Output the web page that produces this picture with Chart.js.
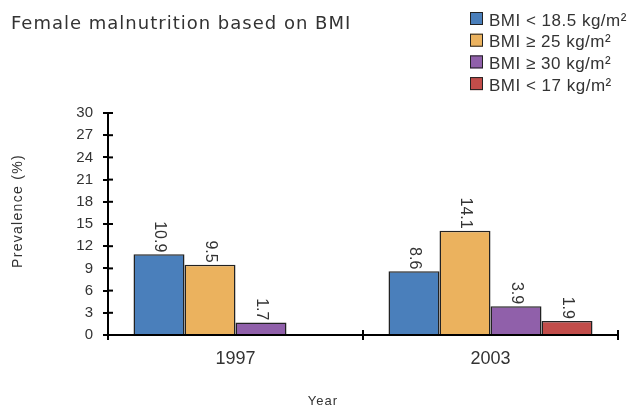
<!DOCTYPE html>
<html>
<head>
<meta charset="utf-8">
<script src="https://cdn.jsdelivr.net/npm/chart.js@4"></script>
<style>
  html, body { margin: 0; padding: 0; background: #fff; }
  #wrap { width: 631px; height: 407px; position: relative; }
</style>
</head>
<body>
<div id="wrap"><canvas id="Chart"></canvas></div>
<script>
// categories and series
var years   = ["1997", "2003"];
var names   = ["BMI < 18.5 kg/m²", "BMI ≥ 25 kg/m²", "BMI ≥ 30 kg/m²", "BMI < 17 kg/m²"];
var under   = [10.9, 8.6];   // BMI < 18.5
var over    = [9.5, 14.1];   // BMI >= 25
var obese   = [1.7, 3.9];    // BMI >= 30
var severe  = [null, 1.9];   // BMI < 17 (no 1997 value)
var colors  = ["#4a7fbb", "#ebb25e", "#9060aa", "#c24d4a"];

// y axis
var max  = 30;
var min  = 0;
var step = 3;

var title  = "Female malnutrition based on BMI";
var yTitle = "Prevalence (%)";
var xTitle = "Year";

var series = [under, over, obese, severe];

// extra drawing: title, legend, axis titles, inner tick marks, value labels
var extras = {
  id: "extras",
  afterDraw: function (chart) {
    var c = chart.ctx;
    var area = chart.chartArea;
    var xs = chart.scales.x, ys = chart.scales.y;
    c.save();

    // inner half of the tick marks
    c.strokeStyle = "#000";
    c.lineWidth = 2;
    ys.ticks.forEach(function (t) {
      var y = ys.getPixelForValue(t.value);
      c.beginPath(); c.moveTo(area.left, y); c.lineTo(area.left + 5, y); c.stroke();
    });
    var half = (xs.getPixelForValue(1) - xs.getPixelForValue(0)) / 2;
    for (var i = 0; i < years.length; i++) {
      var bx = xs.getPixelForValue(i) + half;
      c.beginPath(); c.moveTo(bx, area.bottom); c.lineTo(bx, area.bottom - 5); c.stroke();
    }

    // value labels, rotated
    c.fillStyle = "#333";
    c.font = "16px 'Liberation Sans', Arial, sans-serif";
    chart.data.datasets.forEach(function (ds, di) {
      var meta = chart.getDatasetMeta(di);
      meta.data.forEach(function (bar, j) {
        var v = ds.data[j];
        if (v === null || v === undefined) return;
        c.save();
        c.translate(bar.x, bar.y - 2);
        c.rotate(Math.PI / 2);
        c.textAlign = "right";
        c.textBaseline = "middle";
        c.fillText(String(v), 0, 0);
        c.restore();
      });
    });

    // title
    c.fillStyle = "#333";
    c.font = "18px 'DejaVu Sans', Verdana, sans-serif";
    c.letterSpacing = "1px";
    c.textAlign = "left";
    c.textBaseline = "alphabetic";
    c.fillText(title, 11, 28.5);

    // legend
    c.font = "17px 'Liberation Sans', Arial, sans-serif";
    c.letterSpacing = "0.5px";
    chart.data.datasets.forEach(function (ds, di) {
      var y = 18.5 + di * 21.7;
      c.fillStyle = ds.backgroundColor;
      c.fillRect(470, y - 6.5, 13, 13);
      c.strokeStyle = "#222";
      c.lineWidth = 1;
      c.strokeRect(470.5, y - 6, 12, 12);
      c.fillStyle = "#333";
      c.fillText(ds.label, 489, y + 7);
    });

    // axis titles
    c.fillStyle = "#333";
    c.font = "14px 'Liberation Sans', Arial, sans-serif";
    c.letterSpacing = "1.3px";
    c.textBaseline = "middle";
    c.save();
    c.translate(18.5, 211);
    c.rotate(-Math.PI / 2);
    c.textAlign = "center";
    c.fillText(yTitle, 0, 0);
    c.restore();
    c.font = "13px 'Liberation Sans', Arial, sans-serif";
    c.letterSpacing = "1px";
    c.textAlign = "center";
    c.fillText(xTitle, 323, 401);
    c.restore();
  }
};

var ctx = document.getElementById("Chart").getContext("2d");
var myChart = new Chart(ctx, {
  type: "bar",
  data: {
    labels: years,
    datasets: series.map(function (d, i) {
      return {
        label:           names[i],
        data:            d,
        backgroundColor: colors[i],
        borderColor:     "#222",
        borderWidth:     1.5,
        categoryPercentage: 0.8,
        barPercentage:   1.0
      };
    })
  },
  options: {
    responsive: true,
    maintainAspectRatio: false,
    animation: false,
    layout: { padding: { left: 0, top: 113, right: 13, bottom: 0 } },
    plugins: {
      legend:  { display: false },
      tooltip: { enabled: false }
    },
    scales: {
      x: {
        grid:   { drawOnChartArea: false, color: "#000", lineWidth: 2, tickLength: 5, offset: true },
        border: { color: "#000", width: 2 },
        ticks:  { color: "#333", padding: 8, font: { family: "'Liberation Sans', Arial, sans-serif", size: 18 } },
        afterFit: function (s) { s.height = 72; }
      },
      y: {
        min: min,
        max: max,
        grid:   { drawOnChartArea: false, color: "#000", lineWidth: 2, tickLength: 5 },
        border: { color: "#000", width: 2 },
        ticks:  { stepSize: step, color: "#333", padding: 10, font: { family: "'Liberation Sans', Arial, sans-serif", size: 15 } },
        afterFit: function (s) { s.width = 108; }
      }
    }
  },
  plugins: [extras]
});
</script>
</body>
</html>
